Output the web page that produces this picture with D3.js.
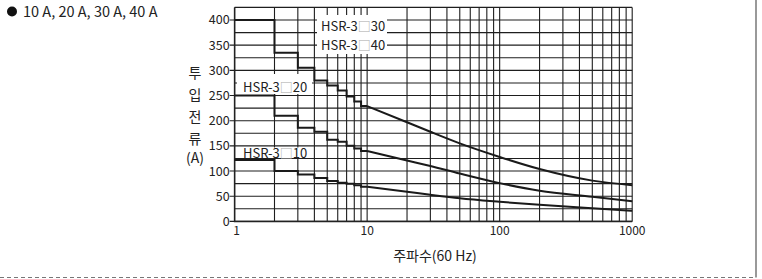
<!DOCTYPE html>
<html>
<head>
<meta charset="utf-8">
<script src="https://cdn.jsdelivr.net/npm/d3@7"></script>
<style>
  body { margin: 0; background: #fff; }
  svg { display: block; }
  text { font-family: "Noto Sans CJK KR", "Noto Sans", sans-serif; fill: #222; }
</style>
</head>
<body>
<svg id="chart"></svg>
<script>
// step part (1..10 Hz) and smooth part (10..1000 Hz), values in A
const stepFreq = [1, 2, 3, 4, 5, 6, 7, 8, 9, 10];
const step3040 = [400, 335, 305, 280, 270, 260, 248, 238, 229];
const step20 = [250, 210, 186, 178, 162, 158, 150, 145, 140];
const step10 = [122, 100, 93, 86, 80, 77, 75, 72, 69];

const decayFreq = [10, 20, 30, 50, 100, 200, 500, 1000];
const decay3040 = [229, 197, 178, 155, 128, 104, 81, 72];
const decay20 = [140, 121, 110, 95, 76, 61, 49, 40];
const decay10 = [69, 59, 53, 46, 39, 33, 26, 21];

const yTicks = [0, 50, 100, 150, 200, 250, 300, 350, 400];
const xTicks = [1, 10, 100, 1000];
const seriesLabels = ["HSR-3", "□", "30", "40", "20", "10"];

const width = 762;
const height = 279;

const svg = d3.select("#chart").attr("width", width).attr("height", height);

const x = d3.scaleLog().domain([1, 1000]).range([234.6, 632.2]);
const y = d3.scaleLinear().domain([0, 425]).range([221.4, 7.4]);

// grid
const vGrid = [];
[1, 10, 100].forEach((d) => {
  for (let k = 1; k < 10; k++) vGrid.push(d * k);
});
vGrid.push(1000);
const hGrid = d3.range(0, 426, 25);

svg
  .append("g")
  .selectAll("line")
  .data(vGrid)
  .enter()
  .append("line")
  .attr("x1", (d) => x(d))
  .attr("x2", (d) => x(d))
  .attr("y1", y(425))
  .attr("y2", y(0))
  .style("stroke", "#1e1e1e")
  .style("stroke-width", 1.1);

svg
  .append("g")
  .selectAll("line")
  .data(hGrid)
  .enter()
  .append("line")
  .attr("x1", (d) => (yTicks.includes(d) ? x(1) - 5 : x(1)))
  .attr("x2", x(1000))
  .attr("y1", (d) => y(d))
  .attr("y2", (d) => y(d))
  .style("stroke", "#1e1e1e")
  .style("stroke-width", 1.1);

// axes frame
svg
  .append("path")
  .attr("d", `M${x(1)},${y(425)}V${y(0)}H${x(1000)}`)
  .style("fill", "none")
  .style("stroke", "#222")
  .style("stroke-width", 1.5);

// tick labels
svg
  .append("g")
  .selectAll("text")
  .data(yTicks)
  .enter()
  .append("text")
  .attr("x", x(1) - 5)
  .attr("y", (d) => y(d))
  .attr("dy", "0.36em")
  .attr("text-anchor", "end")
  .style("font-size", "12.5px")
  .text((d) => d);

svg
  .append("g")
  .selectAll("text")
  .data(xTicks)
  .enter()
  .append("text")
  .attr("x", (d) => (d === 1 ? x(d) + 2 : x(d)))
  .attr("y", 235)
  .attr("text-anchor", "middle")
  .style("font-size", "12px")
  .text((d) => d);

// curves
const stepLine = d3
  .line()
  .x((d) => x(d[0]))
  .y((d) => y(d[1]))
  .curve(d3.curveStepAfter);
const smoothLine = d3
  .line()
  .x((d) => x(d[0]))
  .y((d) => y(d[1]))
  .curve(d3.curveMonotoneX);

[
  [step3040, decay3040],
  [step20, decay20],
  [step10, decay10],
].forEach(([steps, decay]) => {
  const stepPts = stepFreq.map((f, i) => [f, steps[Math.min(i, steps.length - 1)]]);
  const decayPts = decayFreq.map((f, i) => [f, decay[i]]);
  const g = svg.append("g").style("fill", "none").style("stroke", "#1a1a1a").style("stroke-width", 2);
  g.append("path").attr("d", stepLine(stepPts));
  g.append("path").attr("d", smoothLine(decayPts));
});

// series labels with white boxes
const labels = [
  { num: seriesLabels[2], x: 321, y: 30.5, box: [317, 15, 70, 19] },
  { num: seriesLabels[3], x: 321, y: 49.5, box: [317, 34, 70, 20] },
  { num: seriesLabels[4], x: 243, y: 91.5, box: [237, 74, 75, 20] },
  { num: seriesLabels[5], x: 243, y: 157.5, box: [240, 147.5, 72, 10.5] },
];

labels.forEach((l) => {
  svg
    .append("rect")
    .attr("x", l.box[0])
    .attr("y", l.box[1])
    .attr("width", l.box[2])
    .attr("height", l.box[3])
    .style("fill", "#fff");
  const t = svg
    .append("text")
    .attr("x", l.x)
    .attr("y", l.y)
    .style("font-size", "13px");
  t.append("tspan").text(seriesLabels[0]);
  t.append("tspan").style("fill", "#aaa").text(seriesLabels[1]);
  t.append("tspan").text(l.num);
});

// axis titles
const yTitle = ["투", "입", "전", "류"];
svg
  .append("g")
  .selectAll("text")
  .data(yTitle)
  .enter()
  .append("text")
  .attr("x", 195)
  .attr("y", (d, i) => 78 + i * 22)
  .attr("text-anchor", "middle")
  .style("font-size", "14px")
  .text((d) => d);

svg
  .append("text")
  .attr("x", 195)
  .attr("y", 163)
  .attr("text-anchor", "middle")
  .style("font-size", "14px")
  .text("(A)");

svg
  .append("text")
  .attr("x", 435)
  .attr("y", 261)
  .attr("text-anchor", "middle")
  .style("font-size", "14px")
  .text("주파수(60 Hz)");

// top-left note
svg.append("circle").attr("cx", 12).attr("cy", 11.5).attr("r", 5).style("fill", "#111");
svg
  .append("text")
  .attr("x", 23)
  .attr("y", 16.5)
  .style("font-size", "14.5px")
  .text("10 A, 20 A, 30 A, 40 A");

// frame of the panel
svg
  .append("line")
  .attr("x1", 756)
  .attr("x2", 756)
  .attr("y1", 0)
  .attr("y2", 277.5)
  .style("stroke", "#555")
  .style("stroke-width", 1.2);
svg
  .append("line")
  .attr("x1", 0)
  .attr("x2", 756)
  .attr("y1", 277.5)
  .attr("y2", 277.5)
  .style("stroke", "#777")
  .style("stroke-width", 1.2)
  .style("stroke-dasharray", "4,3");
</script>
</body>
</html>
